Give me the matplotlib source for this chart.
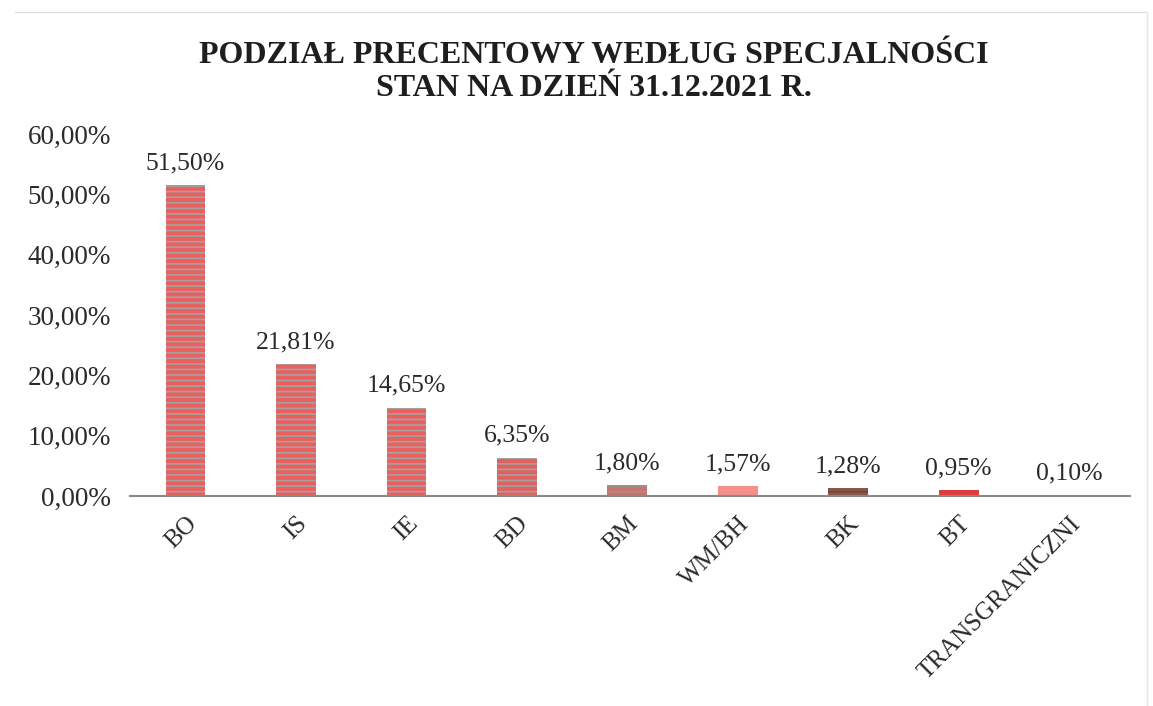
import matplotlib
matplotlib.use("Agg")
import matplotlib.pyplot as plt
from matplotlib.ticker import FuncFormatter

categories = ["BO", "IS", "IE", "BD", "BM", "WM/BH", "BK", "BT", "TRANSGRANICZNI"]
values = [51.50, 21.81, 14.65, 6.35, 1.80, 1.57, 1.28, 0.95, 0.10]
labels = ["51,50%", "21,81%", "14,65%", "6,35%", "1,80%", "1,57%", "1,28%", "0,95%", "0,10%"]
title = "PODZIAŁ PRECENTOWY WEDŁUG SPECJALNOŚCI\nSTAN NA DZIEŃ 31.12.2021 R."

colors = ["#e9605f", "#e9605f", "#e9605f", "#e0625f", "#c9746a", "#f3908a", "#8c5649", "#e23b3b", "#e9605f"]
stripes = ["#a8a0a0", "#a8a0a0", "#a8a0a0", "#a8a0a0", "#a09090", None, "#6a4a40", None, None]

plt.rcParams['font.family'] = ['Liberation Serif', 'DejaVu Serif']
plt.rcParams['hatch.linewidth'] = 1.2

fig = plt.figure(figsize=(11.53, 7.06), dpi=100)
fig.patch.set_facecolor("white")
ax = fig.add_axes([0.113, 0.2975, 0.867, 0.5125])

x = list(range(len(categories)))
for i, (v, c, s) in enumerate(zip(values, colors, stripes)):
    if s is not None:
        ax.bar(x[i], v, width=0.36, color=c, edgecolor=s, linewidth=0, hatch='---')
    else:
        ax.bar(x[i], v, width=0.36, color=c, linewidth=0)

for xi, v, lab in zip(x, values, labels):
    ax.annotate(lab, (xi, v), xytext=(0, 8), textcoords="offset points",
                ha="center", va="bottom", fontsize=18.5, color="#2a2a2a")

ax.set_xlim(-0.5, len(categories) - 0.45)
ax.set_ylim(0, 60)
ax.set_yticks([0, 10, 20, 30, 40, 50, 60])
ax.yaxis.set_major_formatter(FuncFormatter(lambda v, p: f"{v:.2f}".replace(".", ",") + "%"))
ax.tick_params(axis="y", length=0, labelsize=19.5, labelcolor="#2a2a2a", pad=14)
ax.set_xticks(x)
ax.set_xticklabels(categories, rotation=45, ha="right", rotation_mode="anchor",
                   fontsize=18, color="#2a2a2a")
ax.tick_params(axis="x", length=0, pad=12)

for sp in ["top", "right", "left"]:
    ax.spines[sp].set_visible(False)
ax.spines["bottom"].set_color("#8a8a8a")
ax.spines["bottom"].set_linewidth(1.5)

fig.text(0.515, 0.898, title, ha="center", va="center", fontsize=23,
         fontweight="bold", color="#1e1e1e", linespacing=1.2)

# faint scan border
fig.add_artist(plt.Line2D([0.013, 0.993], [0.983, 0.983], color="#dddddd", lw=1))
fig.add_artist(plt.Line2D([0.995, 0.995], [0.0, 0.983], color="#e5e5e5", lw=1))

fig.savefig("out.png", dpi=100, facecolor="white")
